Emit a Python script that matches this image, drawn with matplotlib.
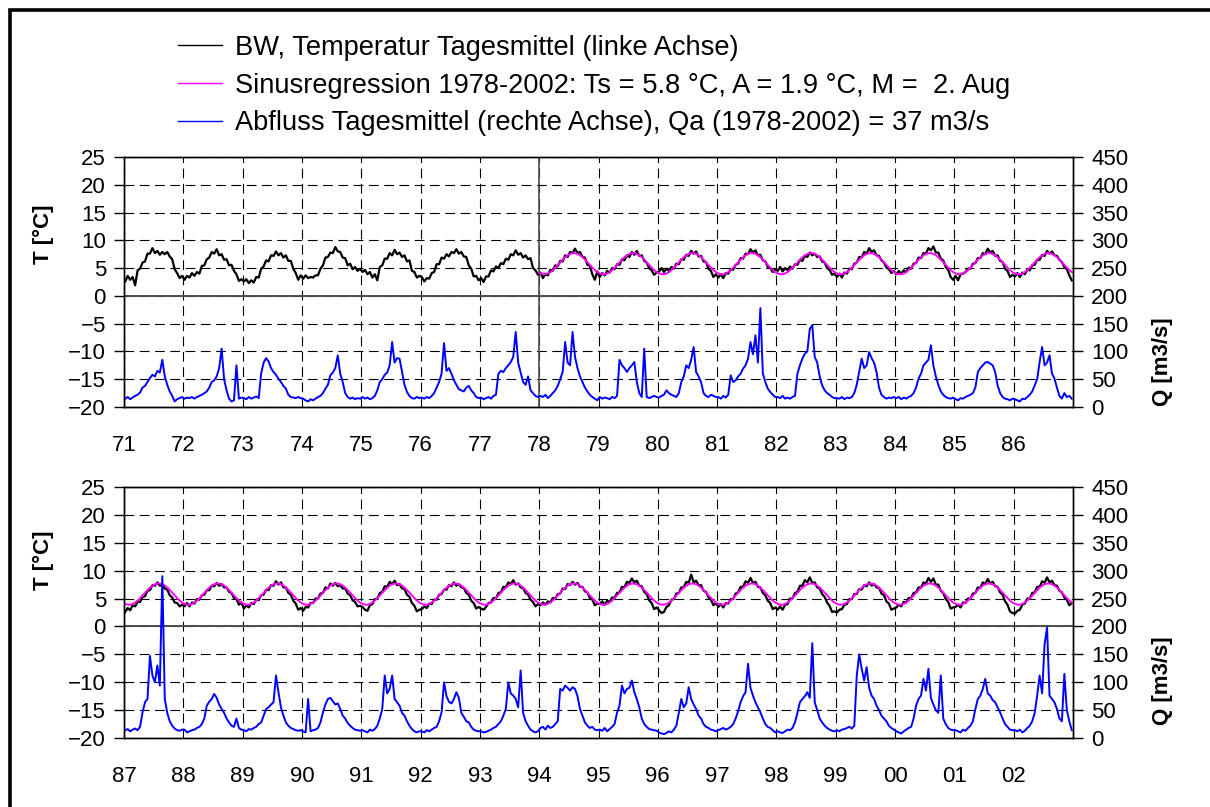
import numpy as np
import matplotlib.pyplot as plt
from matplotlib.patches import Rectangle

plt.rcParams['font.family'] = ['Liberation Sans', 'DejaVu Sans']
plt.rcParams['lines.scale_dashes'] = False

# Halbmonatswerte (24 pro Jahr): Wassertemperatur [°C]
temp_7186 = [
    [2.6, 3.6, 2.9, 3.4, 1.9, 4.6, 4.9, 6.0, 6.2, 7.6, 7.6, 8.6, 7.7, 8.1, 7.4, 7.9, 7.5, 7.9, 7.1, 6.6, 4.8, 4.1, 3.2, 3.6],
    [2.9, 3.6, 3.3, 4.1, 3.6, 4.3, 4.0, 5.4, 5.5, 6.6, 6.9, 7.9, 7.6, 8.4, 7.3, 7.5, 6.5, 6.6, 5.5, 5.6, 4.5, 3.9, 2.7, 3.0],
    [2.6, 3.0, 2.3, 2.8, 2.4, 3.4, 3.3, 4.9, 5.3, 6.4, 6.2, 7.3, 7.2, 8.0, 7.3, 7.7, 6.9, 7.3, 6.3, 6.3, 4.9, 4.1, 2.9, 3.7],
    [3.1, 3.7, 3.2, 3.4, 3.3, 3.7, 3.7, 4.9, 5.5, 6.9, 7.0, 7.8, 7.7, 8.8, 8.0, 7.9, 6.9, 6.8, 5.5, 5.8, 4.8, 5.2, 4.5, 4.9],
    [4.3, 4.7, 3.9, 4.3, 3.3, 3.9, 2.8, 5.2, 5.5, 6.7, 6.7, 7.7, 7.3, 8.3, 7.5, 7.8, 7.0, 7.3, 6.2, 6.4, 4.5, 4.3, 3.3, 3.6],
    [3.4, 2.6, 3.2, 3.1, 4.1, 4.3, 5.7, 5.7, 6.9, 6.7, 7.5, 7.1, 7.9, 7.7, 8.4, 7.6, 7.9, 7.1, 7.0, 5.5, 4.9, 3.5, 3.6, 2.8],
    [3.2, 2.5, 3.5, 3.5, 4.6, 4.4, 5.3, 5.0, 5.9, 5.7, 6.7, 6.5, 7.5, 7.3, 8.2, 7.4, 7.7, 6.9, 7.3, 6.6, 6.8, 5.0, 4.6, 3.8],
    [4.2, 3.2, 3.9, 3.7, 4.7, 4.5, 5.5, 5.3, 6.3, 6.2, 7.3, 7.0, 7.9, 7.7, 8.5, 7.7, 7.9, 7.0, 6.9, 5.6, 5.4, 3.9, 2.9, 4.4],
    [3.4, 4.1, 3.7, 4.5, 4.2, 5.0, 4.8, 5.7, 5.6, 6.6, 6.4, 7.3, 7.0, 7.9, 7.4, 8.1, 7.2, 7.3, 6.3, 6.0, 5.0, 4.6, 3.8, 4.2],
    [4.4, 5.0, 4.3, 4.9, 4.5, 5.2, 4.9, 5.8, 5.7, 6.6, 6.5, 7.4, 7.2, 8.1, 7.6, 8.0, 7.1, 7.2, 6.2, 6.1, 4.9, 4.5, 3.4, 3.9],
    [3.3, 3.9, 3.2, 4.1, 4.0, 4.8, 4.7, 5.6, 5.8, 6.8, 6.7, 7.6, 7.5, 8.4, 7.8, 8.2, 7.3, 7.4, 6.4, 6.2, 5.2, 5.0, 4.3, 4.8],
    [4.5, 5.2, 4.4, 5.0, 4.6, 5.3, 4.9, 5.7, 5.6, 6.5, 6.3, 7.2, 7.0, 7.8, 7.3, 7.6, 7.0, 7.1, 6.2, 6.0, 5.0, 4.7, 3.8, 4.0],
    [3.4, 4.0, 3.3, 4.2, 4.0, 4.9, 4.8, 5.8, 6.0, 7.0, 6.9, 7.9, 7.6, 8.6, 7.9, 8.2, 7.3, 7.2, 6.4, 6.0, 5.1, 4.8, 4.1, 4.5],
    [3.9, 4.5, 4.0, 4.6, 4.3, 5.1, 4.9, 5.8, 5.9, 6.9, 6.8, 7.7, 7.6, 8.6, 8.2, 8.9, 7.8, 7.8, 6.7, 6.4, 5.2, 4.7, 3.4, 2.9],
    [3.6, 2.8, 3.9, 4.0, 4.3, 4.9, 4.9, 5.8, 5.9, 6.8, 6.8, 7.7, 7.5, 8.5, 7.8, 8.1, 7.2, 7.3, 6.3, 6.1, 4.9, 4.5, 3.4, 3.8],
    [3.5, 4.1, 3.4, 4.2, 3.9, 4.7, 4.6, 5.5, 5.6, 6.5, 6.5, 7.4, 7.2, 8.1, 7.6, 8.0, 7.3, 7.2, 6.5, 6.1, 5.2, 4.8, 3.7, 2.8],
]
temp_8702 = [
    [2.6, 3.3, 2.9, 3.8, 3.6, 4.4, 4.4, 5.3, 5.4, 6.4, 6.5, 7.4, 7.3, 7.9, 7.3, 7.6, 6.8, 6.6, 5.6, 5.2, 4.3, 4.2, 3.6, 3.9],
    [3.6, 4.2, 3.6, 4.3, 4.1, 4.9, 4.8, 5.6, 5.7, 6.5, 6.5, 7.3, 7.2, 7.8, 7.3, 7.6, 7.0, 7.0, 6.2, 6.0, 5.1, 4.9, 3.9, 4.3],
    [3.2, 3.8, 3.4, 4.2, 4.0, 4.8, 4.7, 5.6, 5.7, 6.6, 6.5, 7.4, 7.3, 8.1, 7.5, 7.9, 7.0, 7.0, 6.0, 5.7, 4.6, 4.1, 3.0, 3.3],
    [2.8, 3.5, 3.4, 4.2, 4.2, 5.0, 5.0, 5.9, 6.0, 7.0, 6.8, 7.7, 7.3, 7.8, 7.2, 7.4, 6.8, 6.8, 5.9, 5.6, 4.7, 4.4, 3.6, 3.7],
    [3.5, 3.0, 2.8, 3.8, 4.0, 4.9, 5.0, 6.0, 6.2, 7.2, 7.1, 8.0, 7.6, 8.2, 7.4, 7.6, 6.8, 6.7, 5.7, 5.3, 4.2, 3.7, 2.7, 3.0],
    [3.1, 3.6, 3.3, 4.1, 4.0, 4.8, 4.8, 5.7, 5.8, 6.6, 6.6, 7.4, 7.2, 7.9, 7.3, 7.6, 7.0, 6.9, 6.0, 5.7, 4.6, 4.2, 3.2, 3.5],
    [3.2, 3.0, 3.5, 4.2, 4.3, 5.1, 5.0, 6.0, 6.1, 7.1, 7.0, 7.9, 7.6, 8.3, 7.5, 7.7, 7.0, 6.9, 6.0, 5.7, 4.8, 4.4, 3.6, 4.0],
    [3.8, 4.3, 3.9, 4.5, 4.3, 5.1, 5.0, 5.8, 5.9, 6.8, 6.7, 7.6, 7.4, 8.0, 7.5, 7.8, 7.1, 7.1, 6.3, 6.1, 5.1, 4.8, 3.8, 4.1],
    [4.0, 4.5, 3.9, 4.6, 4.4, 5.2, 5.1, 6.0, 6.1, 7.1, 7.0, 8.0, 7.8, 8.6, 7.9, 8.2, 7.3, 7.2, 6.2, 5.8, 4.7, 4.2, 3.1, 3.4],
    [2.9, 2.4, 2.6, 3.5, 3.8, 4.8, 4.9, 5.9, 6.0, 7.0, 7.0, 8.0, 7.8, 9.3, 7.9, 8.2, 7.4, 7.4, 6.4, 6.2, 5.2, 4.8, 3.8, 4.2],
    [3.5, 4.0, 3.4, 4.2, 4.1, 4.9, 4.9, 5.9, 6.1, 7.1, 7.1, 8.1, 7.8, 8.7, 7.8, 8.0, 7.1, 7.0, 6.0, 5.6, 4.6, 4.2, 3.1, 3.4],
    [3.0, 3.6, 3.0, 3.9, 4.0, 5.0, 5.0, 6.0, 6.2, 7.3, 7.3, 8.3, 7.9, 8.8, 7.8, 7.9, 7.0, 6.8, 5.8, 5.3, 4.3, 3.7, 2.6, 2.7],
    [2.5, 3.0, 3.1, 3.9, 4.0, 4.9, 4.9, 5.8, 5.8, 6.7, 6.6, 7.4, 7.2, 7.9, 7.3, 7.6, 7.0, 6.9, 5.9, 5.6, 4.5, 4.1, 3.0, 3.2],
    [3.4, 3.9, 3.6, 4.4, 4.3, 5.1, 5.1, 6.0, 6.1, 7.0, 7.0, 7.9, 7.7, 8.7, 8.0, 8.6, 7.5, 7.5, 6.4, 6.0, 4.9, 4.4, 3.2, 3.4],
    [3.5, 3.9, 3.4, 4.3, 4.2, 5.0, 5.0, 5.9, 6.0, 7.0, 6.9, 7.9, 7.6, 8.5, 7.7, 8.0, 7.2, 7.1, 6.1, 5.7, 4.5, 3.9, 2.7, 2.4],
    [2.3, 2.8, 3.0, 3.9, 4.1, 5.0, 5.0, 6.0, 6.1, 7.1, 7.1, 8.1, 7.8, 8.8, 7.9, 8.2, 7.4, 7.3, 6.4, 6.1, 5.2, 4.8, 3.8, 4.2],
]

# Halbmonatswerte (24 pro Jahr): Abfluss [m3/s]
flow_7186 = [
    [15, 18, 14, 17, 20, 22, 26, 35, 38, 45, 52, 58, 55, 65, 62, 85, 55, 40, 28, 20, 10, 14, 16, 18],
    [15, 17, 16, 18, 15, 18, 20, 22, 25, 28, 35, 45, 48, 55, 70, 105, 50, 30, 15, 10, 12, 75, 15, 17],
    [16, 14, 18, 15, 17, 19, 16, 60, 80, 88, 82, 70, 63, 58, 51, 45, 38, 33, 22, 18, 17, 16, 18, 16],
    [15, 12, 10, 14, 12, 15, 18, 20, 25, 33, 40, 57, 62, 70, 93, 60, 45, 25, 18, 15, 17, 14, 16, 15],
    [18, 15, 17, 14, 16, 20, 30, 45, 50, 58, 62, 75, 117, 80, 88, 87, 63, 40, 27, 20, 16, 15, 18, 16],
    [17, 15, 18, 16, 20, 25, 35, 45, 60, 115, 65, 70, 60, 48, 40, 32, 30, 28, 35, 38, 30, 25, 18, 16],
    [17, 14, 16, 18, 15, 20, 22, 60, 65, 63, 70, 75, 81, 90, 135, 80, 62, 45, 40, 55, 30, 25, 20, 18],
    [20, 18, 22, 16, 20, 25, 30, 38, 50, 63, 117, 80, 75, 135, 90, 70, 55, 45, 35, 28, 22, 18, 15, 12],
    [18, 15, 17, 16, 14, 18, 16, 20, 85, 75, 70, 63, 70, 75, 81, 45, 25, 18, 105, 18, 16, 18, 20, 18],
    [17, 20, 22, 30, 25, 22, 20, 18, 25, 45, 55, 75, 70, 85, 108, 63, 55, 45, 25, 20, 18, 22, 20, 18],
    [18, 15, 20, 17, 22, 57, 45, 48, 55, 60, 69, 75, 87, 117, 95, 129, 80, 178, 60, 45, 33, 27, 22, 18],
    [18, 16, 20, 15, 17, 15, 18, 20, 60, 75, 87, 96, 100, 141, 147, 90, 80, 55, 39, 30, 25, 22, 18, 16],
    [16, 15, 18, 14, 17, 16, 18, 25, 40, 63, 87, 70, 75, 99, 88, 80, 63, 35, 22, 18, 15, 17, 16, 18],
    [16, 18, 14, 17, 15, 18, 20, 25, 35, 51, 60, 75, 80, 85, 111, 75, 55, 40, 28, 22, 18, 16, 15, 17],
    [14, 12, 16, 15, 18, 20, 22, 25, 35, 63, 70, 75, 80, 81, 78, 75, 63, 39, 25, 18, 15, 14, 12, 15],
    [14, 12, 10, 15, 14, 18, 22, 28, 39, 50, 81, 108, 75, 80, 93, 60, 51, 35, 20, 15, 25, 18, 20, 15],
]
flow_8702 = [
    [14, 16, 12, 15, 17, 14, 20, 46, 64, 70, 147, 112, 100, 130, 94, 290, 70, 45, 30, 22, 17, 14, 13, 15],
    [15, 10, 12, 14, 15, 18, 20, 25, 35, 58, 65, 70, 79, 72, 60, 52, 45, 35, 28, 22, 20, 35, 18, 15],
    [14, 12, 16, 15, 18, 20, 25, 28, 40, 52, 55, 60, 64, 112, 82, 55, 40, 28, 22, 18, 16, 14, 13, 14],
    [12, 10, 70, 12, 14, 15, 18, 28, 46, 60, 70, 72, 66, 60, 62, 52, 40, 35, 27, 22, 18, 15, 14, 13],
    [14, 12, 10, 15, 13, 16, 22, 35, 52, 112, 80, 88, 112, 70, 64, 58, 45, 40, 30, 22, 16, 12, 10, 12],
    [12, 10, 14, 12, 15, 18, 20, 30, 46, 100, 75, 65, 62, 70, 82, 72, 45, 38, 30, 28, 20, 15, 13, 12],
    [12, 10, 11, 13, 15, 18, 20, 25, 30, 40, 52, 100, 80, 76, 70, 55, 121, 45, 30, 22, 15, 12, 10, 12],
    [18, 20, 15, 22, 18, 20, 25, 30, 88, 85, 94, 90, 85, 91, 88, 75, 52, 40, 28, 22, 18, 20, 15, 14],
    [15, 13, 18, 12, 16, 20, 25, 45, 58, 94, 80, 88, 90, 103, 82, 70, 55, 35, 25, 20, 16, 15, 14, 13],
    [10, 8, 7, 9, 12, 10, 15, 22, 45, 70, 55, 62, 91, 70, 60, 52, 40, 35, 25, 20, 18, 15, 14, 12],
    [14, 16, 18, 15, 17, 20, 25, 35, 48, 64, 75, 82, 133, 90, 76, 64, 55, 46, 35, 25, 20, 18, 14, 10],
    [12, 10, 9, 12, 15, 14, 18, 28, 45, 64, 70, 75, 82, 72, 170, 64, 50, 35, 28, 22, 18, 15, 13, 12],
    [14, 12, 15, 16, 18, 20, 17, 22, 112, 150, 124, 103, 127, 90, 76, 70, 58, 50, 40, 35, 30, 22, 18, 15],
    [12, 10, 8, 12, 15, 18, 20, 35, 58, 70, 76, 106, 85, 124, 72, 60, 50, 45, 112, 35, 25, 18, 15, 14],
    [14, 12, 10, 15, 13, 18, 22, 30, 52, 70, 76, 88, 106, 80, 76, 68, 64, 55, 46, 35, 25, 20, 15, 14],
    [14, 12, 15, 10, 13, 18, 22, 30, 45, 76, 112, 80, 168, 198, 76, 70, 64, 52, 35, 30, 115, 50, 30, 14],
]

years_top = list(range(1971, 1987))
years_bottom = list(range(1987, 2003))
labels_top = ['71', '72', '73', '74', '75', '76', '77', '78',
              '79', '80', '81', '82', '83', '84', '85', '86']
labels_bottom = ['87', '88', '89', '90', '91', '92', '93', '94',
                 '95', '96', '97', '98', '99', '00', '01', '02']

# Sinusregression 1978-2002
reg_start = 1978
ts = 5.8       # Mittelwert [°C]
amp = 1.9      # Amplitude [°C]
m_day = 214    # Maximum am 2. Aug (Tag im Jahr)

legend_labels = [
    'BW, Temperatur Tagesmittel (linke Achse)',
    'Sinusregression 1978-2002: Ts = 5.8 \u00b0C, A = 1.9 \u00b0C, M =  2. Aug',
    'Abfluss Tagesmittel (rechte Achse), Qa (1978-2002) = 37 m3/s',
]

W, H = 1210, 807
fig = plt.figure(figsize=(W / 100, H / 100), dpi=100)

grid_style = dict(color='k', linestyle=(0, (7, 4)), linewidth=0.8)


def panel(top_px, bottom_px, years, labels, temp, flow, tlab_y, qlab_y):
    ax = fig.add_axes([124 / W, 1 - bottom_px / H, 949 / W, (bottom_px - top_px) / H])
    x = np.concatenate([y + (np.arange(24) + 0.5) / 24 for y in years])
    x0, x1 = years[0], years[-1] + 1

    ax.set_xlim(x0, x1)
    ax.set_ylim(-20, 25)
    ax.set_yticks(np.arange(-20, 26, 5))
    ax.set_xticks(years)
    ax.set_xticklabels(labels)
    ax.grid(True, **grid_style)
    ax.set_axisbelow(True)
    ax.axhline(0, color='0.3', lw=1.4, zorder=1)
    if x0 < reg_start < x1:
        ax.axvline(reg_start, color='0.3', lw=1.2, zorder=1)

    l_t, = ax.plot(x, np.ravel(temp), color='k', lw=1.6, zorder=3)
    t = np.arange(max(x0, reg_start), x1 + 1e-9, 1 / 365.25)
    l_s, = ax.plot(t, ts + amp * np.cos(2 * np.pi * (t - (m_day - 0.5) / 365.25)),
                   color='#ff00ff', lw=1.4, zorder=4)

    ax2 = ax.twinx()
    l_q, = ax2.plot(x, np.ravel(flow), color='#0000ff', lw=1.4)
    ax2.set_ylim(0, 450)
    ax2.set_yticks(np.arange(0, 451, 50))

    ax.tick_params(axis='y', direction='out', length=7, width=1, labelsize=16, pad=6)
    ax.tick_params(axis='x', length=0, labelsize=16, pad=20)
    ax2.tick_params(axis='y', direction='out', length=7, width=1, labelsize=16, pad=6)
    for a in (ax, ax2):
        for s in a.spines.values():
            s.set_linewidth(1.0)

    ax.text(-0.0854, tlab_y, 'T [\u00b0C]', transform=ax.transAxes, rotation=90,
            ha='center', va='center', fontsize=16, fontweight='bold')
    ax.text(1.0938, qlab_y, 'Q [m3/s]', transform=ax.transAxes, rotation=90,
            ha='center', va='center', fontsize=16, fontweight='bold')
    return l_t, l_s, l_q


handles = panel(157, 407, years_top, labels_top, temp_7186, flow_7186, 0.69, 0.18)
panel(487, 738, years_bottom, labels_bottom, temp_8702, flow_8702, 0.71, 0.227)

leg = fig.legend(handles, legend_labels, loc='upper left', bbox_to_anchor=(178 / W, 1 - 35 / H),
                 frameon=False, fontsize=19.6, borderpad=0, borderaxespad=0,
                 handlelength=1.6, handletextpad=0.48, labelspacing=0.43)
for h in leg.legend_handles:
    h.set_linewidth(1.0)

# Rahmen um die Grafik
fig.patches.append(Rectangle((10 / W, -0.1), 1.2, 1.1 - 10 / H, transform=fig.transFigure,
                             fill=False, edgecolor='k', lw=2.6))

fig.savefig('out.png', dpi=100)
